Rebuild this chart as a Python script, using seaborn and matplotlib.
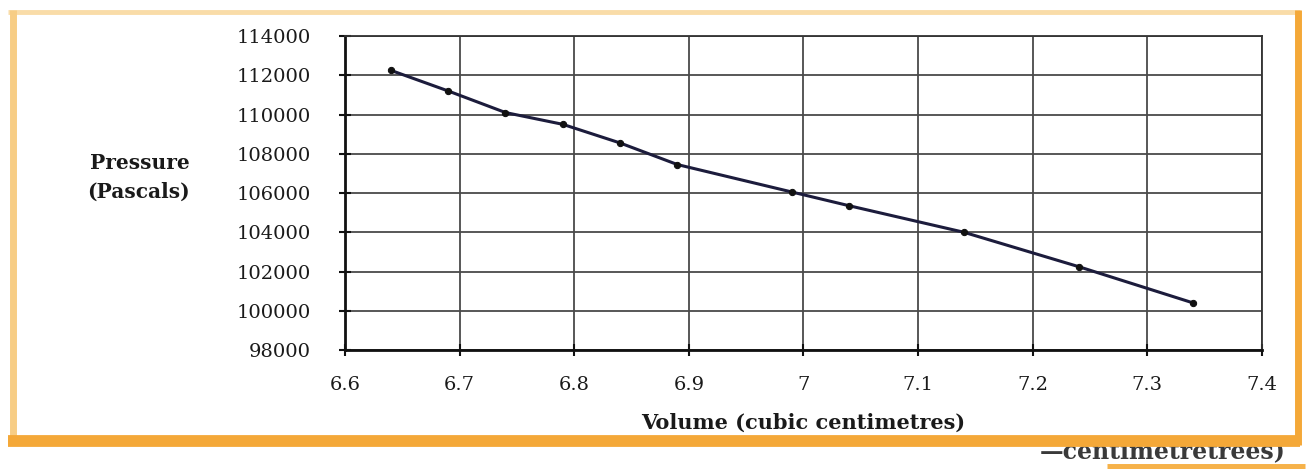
import matplotlib
matplotlib.use("Agg")
import matplotlib.pyplot as plt
import seaborn as sns
import pandas as pd
from matplotlib.lines import Line2D

# ---- data ----
volume = [6.64, 6.69, 6.74, 6.79, 6.84, 6.89, 6.99, 7.04, 7.14, 7.24, 7.34]
pressure = [112250, 111200, 110100, 109500, 108550, 107450, 106050, 105350, 104000, 102250, 100400]
x_ticks = [6.6, 6.7, 6.8, 6.9, 7.0, 7.1, 7.2, 7.3, 7.4]
x_tick_labels = ["6.6", "6.7", "6.8", "6.9", "7", "7.1", "7.2", "7.3", "7.4"]
y_ticks = [98000, 100000, 102000, 104000, 106000, 108000, 110000, 112000, 114000]
y_tick_labels = [str(v) for v in y_ticks]
x_label = "Volume (cubic centimetres)"
y_label = "Pressure\n(Pascals)"
artifact_text = "centimetretrees)"

df = pd.DataFrame({"volume": volume, "pressure": pressure})

sns.set_theme(style="white")
plt.rcParams["font.family"] = ["DejaVu Serif"]

fig = plt.figure(figsize=(13.09, 4.69), dpi=100)
fig.patch.set_facecolor("white")
ax = fig.add_axes([0.2636, 0.2537, 0.7004, 0.6695])

sns.lineplot(data=df, x="volume", y="pressure", ax=ax, color="#1c1c3c",
             linewidth=2.2, marker="o", markersize=4.5,
             markerfacecolor="#111111", markeredgecolor="#111111", zorder=5)

ax.set_xlim(6.6, 7.4)
ax.set_ylim(98000, 114000)
ax.set_xticks(x_ticks)
ax.set_xticklabels(x_tick_labels)
ax.set_yticks(y_ticks)
ax.set_yticklabels(y_tick_labels)
ax.grid(True, color="#4a4a4a", linewidth=1.3)
ax.set_axisbelow(True)
for s in ax.spines.values():
    s.set_color("#333333")
    s.set_linewidth(1.3)
ax.spines["left"].set_color("#111111")
ax.spines["left"].set_linewidth(2.0)
ax.spines["bottom"].set_color("#111111")
ax.spines["bottom"].set_linewidth(2.0)

ax.tick_params(axis="both", which="major", direction="inout", length=9,
               width=1.5, color="#111111", labelsize=14, labelcolor="#1a1a1a")
ax.tick_params(axis="y", pad=20)
ax.tick_params(axis="x", pad=14)
ax.tick_params(left=True, bottom=True)

ax.set_xlabel(x_label, fontsize=15, fontweight="bold", color="#1a1a1a",
              va="center")
ax.xaxis.set_label_coords(0.5, -0.232)
ax.set_ylabel(y_label, fontsize=14.5, fontweight="bold", color="#1a1a1a",
              rotation=0, ha="right", va="center", linespacing=1.5)
ax.yaxis.set_label_coords(-0.169, 0.55)

# ---- orange frame around the picture ----
W, H = 1309.0, 469.0
def fl(x0, y0, x1, y1, color, lw, z=10):
    fig.add_artist(Line2D([x0 / W, x1 / W], [1 - y0 / H, 1 - y1 / H],
                          color=color, linewidth=lw, zorder=z,
                          solid_capstyle="butt"))

fig.text(1040 / W, 1 - 451 / H, "\u2014" + artifact_text, fontsize=17,
         fontweight="bold", color="#3a3a3a", ha="left", va="center", zorder=5)
fl(8, 12, 1300, 12, "#f9dca8", 3.5)
fl(13, 10, 13, 442, "#f7cd85", 5)
fl(8, 441, 1300, 441, "#f4a838", 8.5)
fl(1298, 10, 1298, 445, "#f4a838", 5)
fl(1107, 467, 1305, 467, "#f6b24a", 5)

fig.savefig("out.png", dpi=100, facecolor="white")
